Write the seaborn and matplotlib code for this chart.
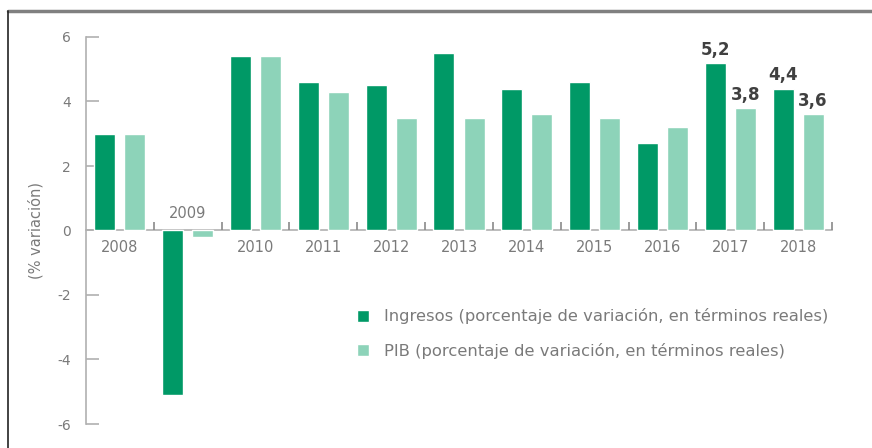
import matplotlib
matplotlib.use("Agg")
import matplotlib.pyplot as plt
from matplotlib.lines import Line2D
import seaborn as sns
import pandas as pd
import numpy as np

years = ["2008", "2009", "2010", "2011", "2012", "2013", "2014", "2015", "2016", "2017", "2018"]
ingresos = [3.0, -5.1, 5.4, 4.6, 4.5, 5.5, 4.4, 4.6, 2.7, 5.2, 4.4]
pib = [3.0, -0.2, 5.4, 4.3, 3.5, 3.5, 3.6, 3.5, 3.2, 3.8, 3.6]
series_names = ["Ingresos (porcentaje de variación, en términos reales)",
                "PIB (porcentaje de variación, en términos reales)"]
labeled_years = ["2017", "2018"]
yticks = [-6, -4, -2, 0, 2, 4, 6]

sns.set_style("white")
plt.rcParams["font.family"] = ["DejaVu Sans"]

DARK = "#009966"
LIGHT = "#8dd3b9"
TXT = "#7a7a7a"
AX = "#b0b0b0"

df = pd.DataFrame({
    "year": years * 2,
    "value": ingresos + pib,
    "serie": [series_names[0]] * len(years) + [series_names[1]] * len(years),
})

fig = plt.figure(figsize=(8.72, 4.48), dpi=100)
ax = fig.add_axes([86 / 872, 1 - 424 / 448, (832 - 86) / 872, (424 - 37) / 448])

sns.barplot(data=df, x="year", y="value", hue="serie", hue_order=series_names,
            palette=[DARK, LIGHT], width=0.885, gap=0.3, ax=ax, saturation=1)

ax.set_xlim(-0.5, len(years) - 0.5)
ax.set_ylim(-6, 6)
ax.set_yticks(yticks)
ax.set_yticklabels([str(t) for t in yticks])

for s in ["top", "right"]:
    ax.spines[s].set_visible(False)
ax.spines["left"].set_color(AX)
ax.spines["left"].set_linewidth(1.2)
ax.spines["bottom"].set_position(("data", 0))
ax.spines["bottom"].set_color(AX)
ax.spines["bottom"].set_linewidth(1.2)
ax.spines["bottom"].set_zorder(0.5)

ax.tick_params(axis="y", left=True, direction="in", length=9.5, width=1.2, color=AX,
               labelcolor=TXT, labelsize=10, pad=11)
ax.tick_params(axis="x", which="major", length=0, labelbottom=False)
ax.set_xticks(np.arange(0.5, len(years), 1.0), minor=True)
ax.tick_params(axis="x", which="minor", bottom=True, direction="in", length=6,
               width=1.2, color="#8a8a8a")

for i, y in enumerate(years):
    neg = ingresos[i] < 0
    ax.text(i, 0.3 if neg else -0.3, y, ha="center", va="bottom" if neg else "top",
            color=TXT, fontsize=10.5)

ax.set_xlabel("")
ax.set_ylabel("(% variación)", color=TXT, fontsize=10.5, labelpad=10)

for cont, vals in zip(ax.containers, [ingresos, pib]):
    labels = [f"{v:.1f}".replace(".", ",") if y in labeled_years else ""
              for y, v in zip(years, vals)]
    ax.bar_label(cont, labels=labels, padding=3, color="#404040", fontsize=12,
                 fontweight="bold")

leg = ax.legend(loc="upper left", bbox_to_anchor=(0.343, 0.337), frameon=False,
                handlelength=0.75, handleheight=0.75, handletextpad=0.9,
                labelspacing=1.15, fontsize=11.8)
for t in leg.get_texts():
    t.set_color(TXT)

fig.add_artist(Line2D([8 / 872, 1], [1 - 11 / 448] * 2, transform=fig.transFigure,
                      color="#808080", lw=2.5))
fig.add_artist(Line2D([8 / 872] * 2, [0, 1 - 11 / 448], transform=fig.transFigure,
                      color="#222222", lw=1.2))

fig.savefig("out.png", dpi=100)
